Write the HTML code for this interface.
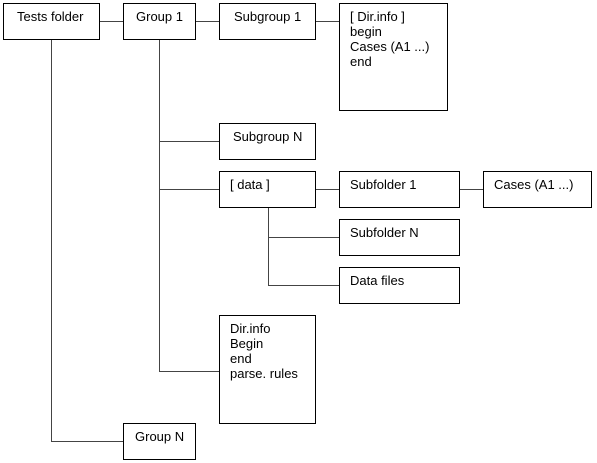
<!DOCTYPE html>
<html><head><style>body{margin:0;background:#fff}svg{display:block}text{font-family:"Liberation Sans",Arial,sans-serif;font-size:13px;fill:#000}</style></head><body>
<svg width="597" height="463" xmlns="http://www.w3.org/2000/svg">
<g stroke="#000" stroke-width="1" fill="none">
<rect x="3.5" y="3.5" width="96" height="36"/>
<rect x="123.5" y="3.5" width="72" height="36"/>
<rect x="219.5" y="3.5" width="96" height="36"/>
<rect x="339.5" y="3.5" width="108" height="107"/>
<rect x="219.5" y="123.5" width="96" height="36"/>
<rect x="219.5" y="171.5" width="96" height="36"/>
<rect x="339.5" y="171.5" width="120" height="36"/>
<rect x="483.5" y="171.5" width="108" height="36"/>
<rect x="339.5" y="219.5" width="120" height="36"/>
<rect x="339.5" y="267.5" width="120" height="36"/>
<rect x="219.5" y="315.5" width="96" height="108"/>
<rect x="123.5" y="423.5" width="72" height="36"/>
</g>
<g stroke="#444" stroke-width="1" fill="none">
<path d="M100 21.5H123M196 21.5H219M316 21.5H339"/>
<path d="M51.5 40V441.5H123"/>
<path d="M159.5 40V371.5H219M159.5 141.5H219M159.5 189.5H219"/>
<path d="M316 189.5H339M460 189.5H483"/>
<path d="M268.5 208V285.5H339M268.5 237.5H339"/>
</g>
<text x="17" y="21">Tests folder</text>
<text x="136" y="21">Group 1</text>
<text x="234" y="21">Subgroup 1</text>
<text x="350" y="21">[ Dir.info ]</text>
<text x="350" y="36">begin</text>
<text x="350" y="51">Cases (A1 ...)</text>
<text x="350" y="66">end</text>
<text x="233" y="141">Subgroup N</text>
<text x="230" y="189">[ data ]</text>
<text x="350" y="189">Subfolder 1</text>
<text x="494" y="189">Cases (A1 ...)</text>
<text x="350" y="237">Subfolder N</text>
<text x="350" y="285">Data files</text>
<text x="230" y="333">Dir.info</text>
<text x="230" y="348">Begin</text>
<text x="230" y="363">end</text>
<text x="230" y="378">parse. rules</text>
<text x="135" y="441">Group N</text>
</svg>
</body></html>
